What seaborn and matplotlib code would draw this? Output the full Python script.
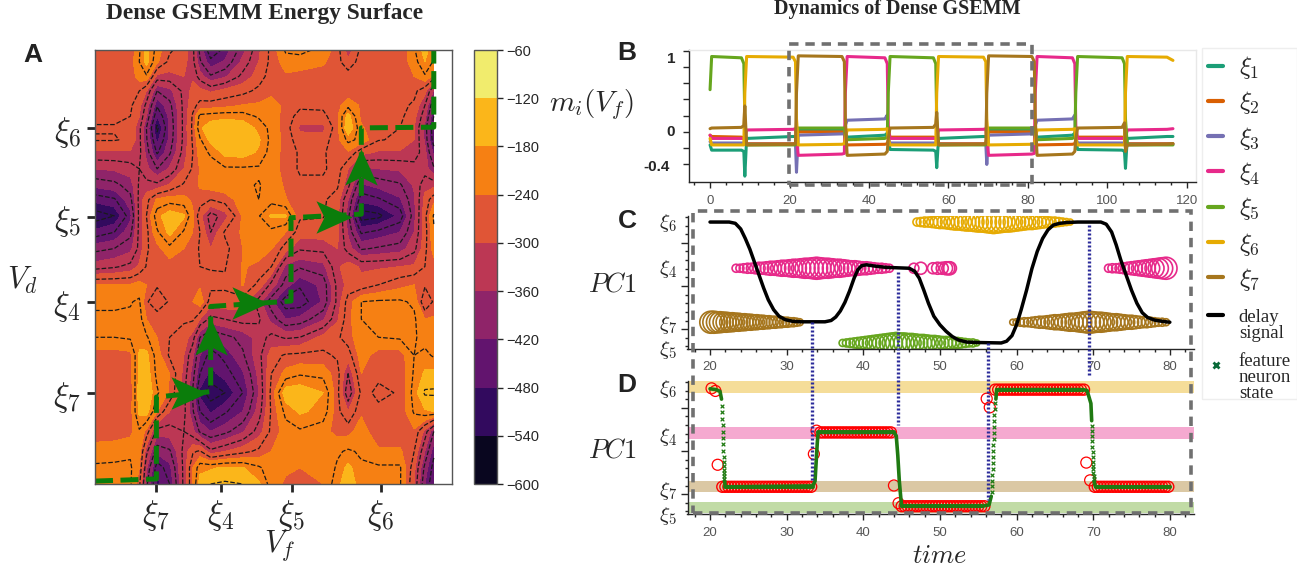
import numpy as np
import matplotlib
matplotlib.use("Agg")
import matplotlib.pyplot as plt
import seaborn as sns
from matplotlib.lines import Line2D
from matplotlib.path import Path
from matplotlib.patches import Rectangle
from matplotlib.ticker import MultipleLocator

W, H = 1297, 569

# panel A: energy surface
vf_grid = [0, 54, 99, 124, 144, 174, 209, 249, 274, 294, 324, 364, 414, 459, 494, 534, 574, 639, 679, 709, 746, 794, 854, 894, 924, 949]
vd_grid = [1198, 1165, 1125, 1085, 1045, 1015, 983, 950, 915, 870, 825, 785, 740, 695, 650, 600, 550, 503, 455, 405, 355, 305, 252, 200, 145, 90, 45, 0]
energy = [
    [-270,-270,-265,-215,-165,-225,-265,-285,-320,-400,-475,-440,-370,-305,-260,-205,-200,-220,-255,-320,-260,-265,-265,-215,-165,-205],
    [-265,-265,-255,-210,-170,-235,-280,-290,-320,-385,-440,-415,-350,-300,-260,-225,-225,-235,-260,-290,-255,-260,-260,-225,-180,-215],
    [-265,-265,-260,-225,-215,-310,-310,-300,-305,-345,-385,-365,-320,-285,-255,-245,-250,-255,-250,-255,-250,-262,-262,-240,-215,-250],
    [-265,-265,-265,-270,-300,-390,-370,-320,-290,-290,-305,-290,-280,-262,-245,-243,-250,-250,-250,-260,-250,-262,-262,-262,-290,-365],
    [-265,-265,-265,-290,-340,-445,-400,-320,-280,-260,-255,-250,-238,-235,-232,-245,-262,-262,-250,-220,-245,-262,-262,-275,-330,-420],
    [-265,-265,-270,-300,-360,-480,-410,-320,-265,-200,-195,-190,-195,-215,-225,-250,-285,-280,-245,-165,-250,-262,-262,-290,-350,-450],
    [-272,-272,-275,-320,-390,-520,-415,-320,-262,-185,-160,-150,-155,-190,-220,-255,-305,-310,-250,-150,-235,-265,-270,-300,-370,-480],
    [-268,-268,-275,-320,-385,-490,-410,-320,-265,-215,-170,-160,-155,-175,-220,-250,-290,-285,-250,-200,-220,-268,-275,-300,-365,-470],
    [-305,-305,-305,-320,-370,-455,-395,-315,-270,-225,-205,-170,-165,-185,-225,-250,-275,-275,-250,-245,-290,-305,-305,-310,-350,-430],
    [-360,-355,-345,-330,-350,-390,-355,-300,-265,-238,-225,-215,-215,-215,-228,-250,-275,-275,-255,-300,-370,-360,-355,-345,-345,-385],
    [-410,-400,-375,-325,-320,-320,-295,-265,-258,-235,-225,-222,-215,-208,-222,-245,-262,-262,-265,-320,-425,-410,-395,-355,-310,-310],
    [-470,-455,-400,-320,-280,-235,-225,-230,-245,-255,-270,-255,-225,-210,-222,-238,-262,-265,-285,-360,-470,-455,-425,-365,-290,-250],
    [-530,-510,-430,-320,-270,-190,-160,-175,-235,-290,-345,-315,-235,-212,-175,-175,-265,-268,-290,-380,-530,-520,-470,-370,-280,-205],
    [-470,-450,-400,-320,-280,-215,-170,-215,-240,-270,-330,-265,-235,-220,-220,-240,-285,-285,-290,-365,-455,-440,-420,-360,-285,-215],
    [-400,-390,-370,-320,-275,-250,-220,-240,-250,-275,-300,-280,-240,-230,-238,-285,-325,-320,-300,-345,-395,-385,-375,-340,-280,-225],
    [-345,-335,-320,-295,-268,-260,-255,-260,-265,-270,-272,-272,-238,-245,-270,-370,-385,-370,-305,-285,-305,-305,-300,-295,-270,-255],
    [-238,-238,-238,-228,-240,-265,-265,-265,-250,-245,-262,-265,-238,-280,-340,-405,-445,-410,-320,-290,-290,-270,-250,-240,-265,-262],
    [-215,-215,-212,-205,-265,-295,-265,-262,-240,-220,-285,-280,-285,-345,-410,-470,-470,-415,-320,-255,-210,-205,-205,-215,-300,-265],
    [-205,-205,-205,-195,-240,-250,-265,-265,-265,-300,-340,-330,-315,-325,-370,-420,-410,-365,-305,-250,-210,-205,-205,-205,-240,-235],
    [-210,-210,-205,-190,-205,-240,-270,-285,-315,-390,-420,-400,-380,-345,-320,-335,-330,-290,-275,-255,-215,-210,-205,-205,-225,-232],
    [-255,-255,-250,-175,-170,-225,-275,-300,-355,-420,-465,-440,-395,-340,-285,-265,-262,-262,-275,-285,-225,-255,-255,-210,-200,-215],
    [-262,-262,-255,-170,-160,-220,-240,-310,-375,-450,-490,-465,-425,-350,-270,-230,-215,-220,-258,-330,-240,-265,-265,-205,-175,-170],
    [-265,-265,-258,-165,-150,-205,-245,-320,-395,-490,-530,-510,-450,-360,-260,-160,-155,-180,-260,-355,-262,-275,-268,-195,-145,-145],
    [-262,-262,-255,-170,-165,-240,-300,-320,-385,-450,-485,-455,-420,-345,-265,-200,-175,-190,-260,-300,-245,-265,-265,-205,-185,-180],
    [-258,-258,-250,-215,-250,-345,-345,-330,-350,-395,-420,-400,-365,-315,-262,-225,-215,-230,-250,-250,-225,-262,-262,-245,-310,-390],
    [-225,-220,-215,-225,-320,-410,-395,-320,-275,-265,-320,-300,-280,-262,-240,-215,-215,-225,-215,-205,-215,-235,-235,-270,-360,-440],
    [-205,-205,-205,-240,-355,-470,-430,-320,-240,-190,-185,-175,-178,-205,-228,-235,-240,-235,-205,-170,-205,-205,-205,-290,-400,-465],
    [-205,-205,-205,-260,-380,-490,-450,-320,-240,-165,-150,-145,-150,-175,-225,-245,-262,-240,-190,-155,-200,-205,-205,-300,-420,-480],
]
fill_levels = [-600, -540, -480, -420, -360, -300, -240, -180, -120, -60]
line_levels = [-510, -450, -390, -330, -270, -210, -150]
vf_ticks = [172, 352, 551, 800]
vf_labels = [r"$\xi_7$", r"$\xi_4$", r"$\xi_5$", r"$\xi_6$"]
vd_ticks = [252, 503, 737, 983]
vd_labels = [r"$\xi_7$", r"$\xi_4$", r"$\xi_5$", r"$\xi_6$"]

# green path across the wells, and arrowheads (vf, vd, angle)
path_vf = [0, 172, 172, 324, 324, 549, 549, 746, 746, 949, 949]
path_vd = [8, 14, 240, 255, 490, 505, 735, 745, 983, 985, 1198]
arrow_vf = [264, 324, 434, 669, 746]
arrow_vd = [252, 405, 500, 738, 875]
arrow_deg = [0, 90, 0, 0, 90]

# panel B: overlaps over time
b_time = [0, 0.4, 7.9, 8.5, 8.75, 9.2, 20.9, 21.5, 21.75, 22.2, 33.2, 33.8, 34.05, 34.5, 44, 44.6, 44.85, 45.3, 56.2, 56.8,
          57.05, 57.5, 68.8, 69.4, 69.65, 70.1, 81, 81.6, 81.85, 82.3, 91.2, 91.8, 92.05, 92.5, 103.7, 104.3, 104.55, 105, 115, 116.5]
xi1 = [-0.2,-0.28,-0.28,-0.3, -0.68,-0.1,-0.07,-0.07, -0.1,0.03,0.03,0.03, 0,-0.08,-0.05,-0.02, -0.1,-0.27,-0.28,-0.3,
       -0.55,-0.1,-0.07,-0.07, -0.1,0.03,0.03,0.03, 0,-0.08,-0.05,-0.02, -0.1,-0.27,-0.28,-0.3, -0.56,-0.1,-0.07,-0.07]
xi2 = [-0.05,-0.07,-0.08,-0.09, -0.12,-0.18,-0.18,-0.18, -0.1,0,0,0, -0.12,-0.2,-0.19,-0.18, -0.12,-0.08,-0.08,-0.09,
       -0.12,-0.18,-0.18,-0.18, -0.1,0,0,0, -0.12,-0.2,-0.19,-0.18, -0.12,-0.08,-0.08,-0.09, -0.12,-0.18,-0.18,-0.18]
xi3 = [-0.15,-0.17,-0.17,-0.17, -0.16,-0.19,-0.19,-0.19, -0.62,-0.05,-0.03,-0.03, 0.1,0.18,0.2,0.26, -0.1,-0.17,-0.17,-0.17,
       -0.16,-0.19,-0.19,-0.19, -0.5,-0.05,-0.03,-0.03, 0.1,0.18,0.2,0.26, -0.1,-0.17,-0.17,-0.17, -0.16,-0.19,-0.19,-0.19]
xi4 = [-0.05,-0.1,-0.1,-0.1, -0.1,0.03,0.04,0.05, -0.1,-0.36,-0.34,-0.33, 0.6,1.16,1.14,1.05, 0.1,-0.1,-0.1,-0.1,
       -0.1,0.03,0.04,0.05, -0.1,-0.36,-0.34,-0.33, 0.6,1.16,1.14,1.05, 0.1,-0.1,-0.1,-0.1, -0.1,0.03,0.04,0.05]
xi5 = [0.65,1.16,1.14,1.05, 0.2,-0.2,-0.2,-0.2, -0.1,0.06,0.06,0.06, -0.1,-0.12,-0.1,-0.07, 0.6,1.16,1.14,1.05,
       0.2,-0.2,-0.2,-0.2, -0.1,0.06,0.06,0.06, -0.1,-0.12,-0.1,-0.07, 0.6,1.16,1.14,1.05, 0.2,-0.2,-0.2,-0.2]
xi6 = [-0.1,-0.2,-0.2,-0.2, 0.6,1.16,1.15,1.08, 0.2,-0.2,-0.19,-0.18, -0.1,0.03,0.04,0.05, -0.1,-0.2,-0.2,-0.2,
       0.6,1.16,1.15,1.08, 0.2,-0.2,-0.19,-0.18, -0.1,0.03,0.04,0.05, -0.1,-0.2,-0.2,-0.2, 0.6,1.16,1.15,1.1]
xi7 = [0.05,0.06,0.07,0.1, 0.4,-0.2,-0.19,-0.18, 0.6,1.17,1.16,1.08, 0.2,-0.36,-0.34,-0.3, -0.1,0.06,0.07,0.12,
       0.3,-0.2,-0.19,-0.18, 0.6,1.17,1.16,1.08, 0.2,-0.36,-0.34,-0.3, -0.1,0.06,0.07,0.14, -0.3,-0.2,-0.19,-0.18]

# panel C: delay signal
delay_t = [20,22.5,23.3,24,24.6,25.2,25.8,26.4,27,27.6,28.3,29,29.8,30.8,32,35,35.8,36.4,37,37.6,38.2,38.8,39.3,39.8,40.4,41.5,43,46,46.7,47.3,
           47.9,48.5,49.2,50,50.8,51.6,52.4,53.5,55,58,58.7,59.4,60,60.6,61.3,62,62.7,63.4,64.1,64.8,65.6,66.6,68,71,71.7,72.4,73,73.6,74.3,75,
           75.7,76.4,77.1,78,79,80]
delay_y = [2.48,2.48,2.45,2.32,2.1,1.85,1.55,1.25,0.95,0.68,0.45,0.3,0.22,0.18,0.17,0.17,0.2,0.28,0.42,0.62,0.88,1.18,1.38,1.47,1.49,1.46,1.43,1.41,1.34,1.18,
           0.9,0.6,0.3,0.1,-0.05,-0.17,-0.25,-0.3,-0.31,-0.32,-0.28,-0.15,0.1,0.45,0.9,1.4,1.8,2.1,2.3,2.41,2.45,2.47,2.48,2.48,2.43,2.25,1.95,1.6,1.25,0.9,
           0.6,0.38,0.27,0.21,0.18,0.16]
level_c4 = 1.41
level_c5 = -0.32
level_c6 = 2.48
level_c7 = 0.16

# rings of the feature neuron, diameters in pixels
c7a_t = [20.1,20.5,20.9,21.3,21.7,22.1,22.5,22.9,23.3,23.7,24.1,24.5,24.9,25.3,25.7,26.1,26.5,26.9,27.3,27.7,28.1,28.5,28.9,29.3,29.7,30.1,30.5,30.9,31.3,31.7]
c7a_d = [22,22,21,21,20,20,19,19,18,18,17,17,16,16,15,15,14,14,13,13,12,12,11,11,10,10,9,9,8,7]
c4a_t = [23.4,23.9,24.4,24.9,25.4,25.9,26.4,26.9,27.4,27.9,28.4,28.9,29.4,29.9,30.4,30.9,31.4,31.9,32.4,32.9,33.4,33.9,34.4,34.9,35.4,35.9,36.4,36.9,37.4,37.9,38.4,38.9,39.4,39.9,40.4,40.9,41.4,41.9,42.4,42.9,43.4]
c4a_d = [8,8,9,10,10,11,12,12,13,14,14,15,16,16,17,18,18,19,20,20,21,22,21,20,20,19,18,18,17,16,15,15,14,13,13,12,11,10,10,9,8]
c4b_t = [46.6,47.5,49.1,49.7,50.3,50.8,51.1,51.3]
c4b_d = [10,12,11,12,12,13,13,13]
c4c_t = [72,72.5,73,73.5,74,74.5,75,75.5,76,76.5,77,77.5,78,78.5,79,79.5]
c4c_d = [8,9,9,10,11,12,13,14,15,16,17,18,19,20,21,22]
c7b_t = [59.5,60,60.5,61,61.5,62,62.5,63,63.5,64,64.5,65,65.5,66,66.5,67,67.5,68,68.5,69,69.5,70,70.5,71,71.5,72,72.5,73,73.5,74,74.5,75,75.5,76,76.5,77,77.5,78,78.5,79,79.5]
c7b_d = [6,7,8,9,9,10,11,12,12,13,14,15,15,16,17,18,18,19,20,21,22,21,20,20,19,18,17,17,16,15,14,14,13,12,11,11,10,9,8,8,7]
c5_t = [37.3,37.8,38.3,38.8,39.3,39.8,40.3,40.8,41.3,41.8,42.3,42.8,43.3,43.8,44.3,44.8,45.3,45.8,46.3,46.8,47.3,47.8,48.3,48.8,49.3,49.8,50.3,50.8,51.3,51.8,52.3,52.8,53.3,53.8,54.3,54.8]
c5_d = [7,8,9,10,11,12,13,14,15,16,17,18,19,20,21,20,20,19,19,18,17,17,16,15,15,14,13,13,12,11,11,10,9,8,8,6]
c6_t = [47,47.5,48,48.5,49,49.5,50,50.5,51,51.5,52,52.5,53,53.5,54,54.5,55,55.5,56,56.5,57,57.5,58,58.5,59,59.5,60,60.5,61,61.5,62,62.5,63,63.5,64,64.5,65,65.5,66,66.5,67]
c6_d = [8,9,10,10,11,12,13,13,14,15,16,16,17,18,18,19,20,20,21,22,23,22,21,20,20,19,18,17,16,15,15,14,13,12,11,10,10,9,8,7,6]

# panel D: neuron state
level_d4 = 1.43
level_d5 = -0.28
level_d6 = 2.42
level_d7 = 0.17
state_t = [20, 20.8, 21.3, 21.5]
state_y = [2.44, 2.42, 2.38, 2.2]
state2_t = [21.9, 22, 33.4, 33.7, 33.9, 34, 34.1, 44, 44.3, 44.5, 44.7, 44.9, 45, 55.5, 56.4, 56.7]
state2_y = [0.3, 0.17, 0.19, 0.3, 0.9, 1.2, 1.43, 1.43, 1.35, 0.9, 0.3, -0.1, -0.28, -0.28, -0.25, -0.05]
state3_t = [57.3, 57.4, 68.7, 69.2, 69.7, 69.8]
state3_y = [2.2, 2.42, 2.42, 2.4, 2.1, 1.7]
state4_t = [70.1, 70.3, 80]
state4_y = [0.3, 0.17, 0.17]
jump_t = [21.55,21.6,21.62,21.65,21.68,21.7,21.72,21.74,21.76,21.78,21.8,21.82,21.84,21.86,21.88,
          56.75,56.8,56.82,56.85,56.88,56.9,56.92,56.95,56.98,57,57.02,57.05,57.08,57.1,57.15,57.2,
          69.82,69.84,69.86,69.88,69.9,69.92,69.94,69.96,69.98,70,70.02,70.05,70.08]
jump_y = [2.05,1.9,1.75,1.6,1.45,1.3,1.15,1.0,0.85,0.75,0.65,0.55,0.48,0.42,0.36,
          0.05,0.18,0.3,0.44,0.58,0.72,0.86,1.0,1.14,1.28,1.42,1.56,1.7,1.84,1.98,2.1,
          1.58,1.46,1.34,1.22,1.1,0.98,0.86,0.74,0.66,0.58,0.5,0.42,0.36]
red7a_t = [21.6,22,22.4,22.8,23.2,23.6,24,24.4,24.8,25.2,25.6,26,26.4,26.8,27.2,27.6,28,28.4,28.8,29.2,29.6,30,30.4,30.8,31.2,31.6,32,32.4,32.8,33.2]
red4_t = [34.4,34.8,35.2,35.6,36,36.4,36.8,37.2,37.6,38,38.4,38.8,39.2,39.6,40,40.4,40.8,41.2,41.6,42,42.4,42.8,43.2,43.6]
red5_t = [45,45.4,45.8,46.2,46.6,47,47.4,47.8,48.2,48.6,49,49.4,49.8,50.2,50.6,51,51.4,51.8,52.2,52.6,53,53.4,53.8,54.2,54.6,55,55.4,55.8]
red6_t = [57.2,57.6,58,58.4,58.8,59.2,59.6,60,60.4,60.8,61.2,61.6,62,62.4,62.8,63.2,63.6,64,64.4,64.8,65.2,65.6,66,66.4,66.8,67.2,67.6,68,68.4,68.8]
red7b_t = [70.2,70.6,71,71.4,71.8,72.2,72.6,73,73.4,73.8,74.2,74.6,75,75.4,75.8,76.2,76.6,77,77.4,77.8,78.2,78.6,79,79.4,79.8]
red_lone_t = [20.2, 20.7, 21.0, 33.55, 33.9, 44, 44.6, 56.1, 56.5, 69.1, 69.6]
red_lone_y = [2.45, 2.39, 0.68, 0.93, 1.47, 0.2, -0.21, 2.21, 2.01, 0.73, 0.32]

sns.set_theme(style="ticks")
plt.rcParams["mathtext.fontset"] = "cm"
plt.rcParams["font.family"] = ["Liberation Sans", "DejaVu Sans"]
plt.rcParams["axes.linewidth"] = 1.0
palette = sns.color_palette("Dark2", 7)
c1, c2, c3, c4, c5, c6, c7 = palette
path_green = "#0b7d0b"
state_green = "#1f7a12"


def fx(px):
    return px / W


def fy(py):
    return 1 - py / H


def add_axes_px(left, top, right, bottom):
    return fig.add_axes([fx(left), fy(bottom), (right - left) / W, (bottom - top) / H])


def label(px, py, s, size, **kw):
    fig.text(fx(px), fy(py), s, fontsize=size, ha=kw.pop("ha", "center"), va=kw.pop("va", "center"), **kw)


def rings(ax, t, level, diam, color, lw=1.2):
    sizes = (np.array(diam) * 0.72) ** 2
    sns.scatterplot(x=t, y=[level] * len(t), s=sizes, marker="o", facecolor="none", edgecolor=color,
                    linewidth=lw, ax=ax, legend=False)


def trace(ax, t, y, color, lw, **kw):
    sns.lineplot(x=t, y=y, color=color, linewidth=lw, estimator=None, errorbar=None, sort=False, ax=ax, legend=False, **kw)


fig = plt.figure(figsize=(W / 100, H / 100), dpi=100)

# A
ax_a = add_axes_px(95, 50, 452, 484)
cf = ax_a.contourf(vf_grid, vd_grid, energy, levels=fill_levels, cmap=sns.color_palette("inferno", as_cmap=True))
ax_a.contour(vf_grid, vd_grid, energy, levels=line_levels, colors="k", linestyles="--", linewidths=0.9)
ax_a.set_xlim(0, 1000)
ax_a.set_ylim(0, 1198)
ax_a.set_xticks(vf_ticks)
ax_a.set_xticklabels(vf_labels, fontsize=24)
ax_a.set_yticks(vd_ticks)
ax_a.set_yticklabels(vd_labels, fontsize=24)
ax_a.tick_params(length=6, width=2, pad=4)
for s in ax_a.spines.values():
    s.set_color("#555555")
trace(ax_a, path_vf, path_vd, path_green, 3.6, linestyle=(0, (3.6, 1.5)))
head = [(-1, -0.9), (1, 0), (-1, 0.9), (-0.55, 0), (-1, -0.9)]
for x, y, deg in zip(arrow_vf, arrow_vd, arrow_deg):
    a = np.deg2rad(deg)
    verts = [(px * np.cos(a) - py * np.sin(a), px * np.sin(a) + py * np.cos(a)) for px, py in head]
    ax_a.plot([x], [y], marker=Path(verts), markersize=26, color=path_green, mew=0, zorder=5)

cax = add_axes_px(474, 50, 497, 484)
cbar = fig.colorbar(cf, cax=cax, ticks=fill_levels)
cbar.ax.tick_params(labelsize=10.5, length=4, width=1, pad=3)
cbar.outline.set_edgecolor("#555555")

# B
ax_b = add_axes_px(689, 50, 1196, 182)
for vals, col in zip([xi1, xi2, xi3, xi4, xi5, xi6, xi7], palette):
    trace(ax_b, b_time, vals, col, 2.2)
ax_b.set_xlim(-5.3, 122.3)
ax_b.set_ylim(-0.77, 1.26)
ax_b.set_xticks([0, 20, 40, 60, 80, 100, 120])
ax_b.xaxis.set_minor_locator(MultipleLocator(4))
ax_b.set_yticks([-0.5, -0.25, 0, 0.25, 0.5, 0.75, 1, 1.25])
ax_b.set_yticklabels([])
ax_b.tick_params(axis="x", which="major", labelsize=9.5, labelcolor="#555555", length=4, width=1, pad=5)
ax_b.tick_params(axis="x", which="minor", length=2.5, width=1)
ax_b.tick_params(axis="y", length=4, width=1)
for side in ["top", "right"]:
    ax_b.spines[side].set_color("#e8e8e8")

# C
ax_c = add_axes_px(687.5, 216, 1193.6, 349)
rings(ax_c, c7a_t, level_c7, c7a_d, c7)
rings(ax_c, c7b_t, level_c7, c7b_d, c7)
rings(ax_c, c4a_t, level_c4, c4a_d, c4)
rings(ax_c, c4b_t, level_c4, c4b_d, c4)
rings(ax_c, c4c_t, level_c4, c4c_d, c4)
rings(ax_c, c5_t, level_c5, c5_d, c5)
rings(ax_c, c6_t, level_c6, c6_d, c6)
trace(ax_c, delay_t, delay_y, "black", 2.5)
ax_c.set_xlim(17.06, 83.1)
ax_c.set_ylim(-0.46, 2.62)

# D
ax_d = add_axes_px(687.5, 381, 1193.6, 514)
ax_d.axhspan(2.35, 2.62, color=c6, alpha=0.4, lw=0)
ax_d.axhspan(1.28, 1.55, color=c4, alpha=0.4, lw=0)
ax_d.axhspan(0.04, 0.30, color=c7, alpha=0.4, lw=0)
ax_d.axhspan(-0.44, -0.18, color=c5, alpha=0.4, lw=0)
for t, lev in [(red7a_t, level_d7), (red4_t, level_d4), (red5_t, level_d5), (red6_t, level_d6), (red7b_t, level_d7)]:
    rings(ax_d, t, lev, [11] * len(t), "red", lw=1.0)
sns.scatterplot(x=red_lone_t, y=red_lone_y, s=(11 * 0.72) ** 2, marker="o", facecolor="none", edgecolor="red",
                linewidth=0.9, ax=ax_d, legend=False)
for t, y in [(state_t, state_y), (state2_t, state2_y), (state3_t, state3_y), (state4_t, state4_y)]:
    trace(ax_d, t, y, state_green, 2.6)
for lev, t in [(level_d7, [22, 33.4]), (level_d4, [34.1, 44]), (level_d5, [45, 55.5]), (level_d6, [57.4, 68.7]), (level_d7, [70.3, 80])]:
    trace(ax_d, t, [lev, lev], state_green, 2.8)
sns.scatterplot(x=jump_t, y=jump_y, marker="x", s=7, color=state_green, linewidth=0.9, ax=ax_d, legend=False)
ax_d.set_xlim(17.06, 83.1)
ax_d.set_ylim(-0.46, 2.62)

for ax in [ax_c, ax_d]:
    ax.set_xticks([20, 30, 40, 50, 60, 70, 80])
    ax.xaxis.set_minor_locator(MultipleLocator(2))
    ax.set_yticks([0, 1, 2])
    ax.yaxis.set_minor_locator(MultipleLocator(0.2))
    ax.set_yticklabels([])
    ax.tick_params(axis="x", which="major", labelsize=9.5, labelcolor="#555555", length=4, width=1, pad=5)
    ax.tick_params(axis="x", which="minor", length=2.5, width=1)
    ax.tick_params(axis="y", which="major", length=5, width=1)
    ax.tick_params(axis="y", which="minor", length=2.5, width=1)
    ax.spines["top"].set_visible(False)
    ax.spines["right"].set_visible(False)

# links between C and D, and the grey frames
for px, top, bottom in [(812, 322, 480), (898, 272, 425), (988, 343, 500), (1089, 225, 377)]:
    fig.add_artist(Line2D([fx(px), fx(px)], [fy(top), fy(bottom)], color="#2b2b9a", lw=2.4, ls=(0, (0.6, 0.6)), zorder=6))
for left, top, right, bottom in [(789, 44, 1032, 185), (693, 211, 1191, 513)]:
    fig.add_artist(Rectangle((fx(left), fy(bottom)), (right - left) / W, (bottom - top) / H, fill=False,
                             edgecolor="#707070", lw=2.6, ls=(0, (2.6, 1.9)), transform=fig.transFigure, zorder=7))

# legend
handles = [Line2D([], [], color=c, lw=3) for c in palette]
handles += [Line2D([], [], color="black", lw=3),
            Line2D([], [], color="#0a6b3a", marker="x", ls="none", ms=5, mew=2)]
names = [r"$\xi_%d$" % i for i in range(1, 8)] + ["delay\nsignal", "feature\nneuron\nstate"]
leg = fig.legend(handles, names, loc="upper left", bbox_to_anchor=(fx(1202), fy(48)), frameon=True, fontsize=18,
                 labelspacing=0.33, handlelength=0.6, handletextpad=0.62, borderpad=0.25, borderaxespad=0, fancybox=False)
leg.get_frame().set_edgecolor("#eeeeee")
leg.get_frame().set_linewidth(1)
leg.get_frame().set_alpha(1)
for txt, drop in zip(leg.get_texts()[7:], [8, 10]):
    txt.set_fontfamily("Liberation Serif")
    txt.set_fontsize(13.5)
    txt.set_linespacing(0.95)
    txt.set_position((0, -drop))

# titles and labels
serif = "Liberation Serif"
label(265, 14, "Dense GSEMM Energy Surface", 16.8, family=serif, weight="bold")
label(897, 9, "Dynamics of Dense GSEMM", 14.5, family=serif, weight="bold")
label(33, 55, "A", 19, weight="bold", color="#222222")
label(627, 53, "B", 19, weight="bold", color="#222222")
label(627, 221, "C", 19, weight="bold", color="#222222")
label(627, 385, "D", 19, weight="bold", color="#222222")
label(592, 105, r"$m_i(V_f)$", 21)
label(22, 280, r"$V_d$", 22)
label(280, 546, r"$V_f$", 22)
label(612, 285, r"$PC1$", 19)
label(612, 450, r"$PC1$", 19)
label(940, 556, r"$time$", 19)
label(671, 59, "1", 11, weight="bold")
label(671, 132, "0", 11, weight="bold")
label(657, 167, "-0.4", 11, weight="bold")
for py, s in [(223, r"$\xi_6$"), (269, r"$\xi_4$"), (325, r"$\xi_7$"), (350, r"$\xi_5$"),
              (389, r"$\xi_6$"), (437, r"$\xi_4$"), (491, r"$\xi_7$"), (516, r"$\xi_5$")]:
    label(668, py, s, 15)

fig.savefig("out.png", dpi=100)
